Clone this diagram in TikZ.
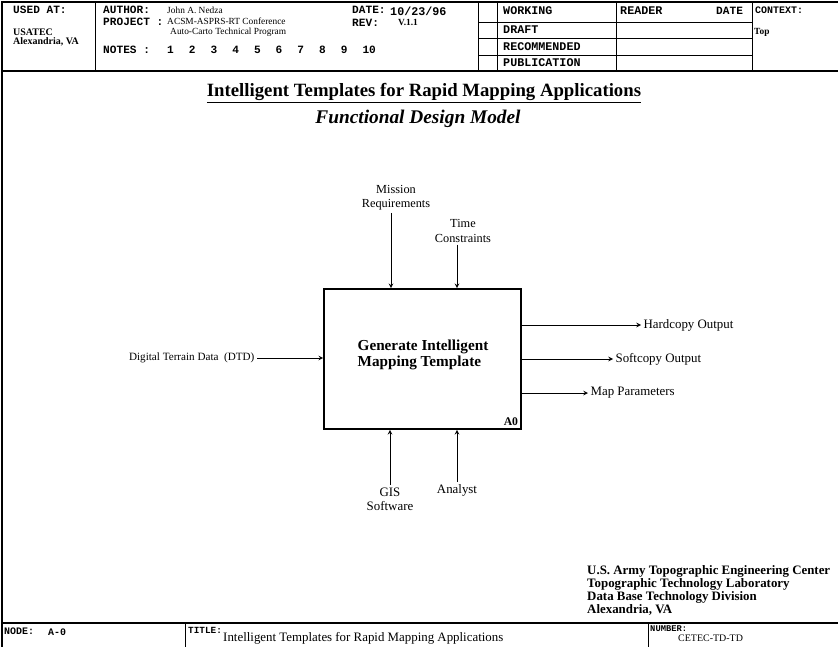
\documentclass[tikz,border=0pt]{standalone}
\usepackage{fontspec}
\setmainfont{Liberation Serif}
\setmonofont{Liberation Mono}
\usepackage{tikz}

\begin{document}
\begin{tikzpicture}[x=0.03cm, y=-0.03cm,
    frame/.style={line width=1.1pt},
    rule/.style={line width=0.6pt},
    formlabel/.style={font=\fontsize{9.5}{10}\selectfont\ttfamily\bfseries, inner sep=0pt, anchor=west},
    formtext/.style={font=\fontsize{8}{8}\selectfont, inner sep=0pt, anchor=west},
    formbold/.style={font=\fontsize{8.5}{9}\selectfont\bfseries, inner sep=0pt, anchor=west},
    flow/.style={->, >=stealth, line width=0.8pt},
    flowlabel/.style={font=\fontsize{11}{12}\selectfont, align=center, inner sep=2pt}]
    \useasboundingbox (0,0) rectangle (838,647);
    % form frame
    \draw[frame] (2,647) -- (2,2) -- (838,2);
    \draw[frame] (2,71) -- (838,71);
    \draw[frame] (2,623) -- (838,623);
    \foreach \xx in {95,478,497,616,752} \draw[rule] (\xx,2) -- (\xx,71);
    \foreach \yy in {22,38,55} \draw[rule] (478,\yy) -- (752,\yy);
    \draw[rule] (185,623) -- (185,647);
    \draw[rule] (648,623) -- (648,647);
    % header
    \node[formlabel] (usedat) at (13,10) {USED AT:};
    \node[formbold] (usatec) at (13,32) {USATEC};
    \node[formbold] (usedplace) at (13,42) {Alexandria, VA};
    \node[formlabel] (author) at (103,10) {AUTHOR:};
    \node[formtext] (authorname) at (167,10) {John A. Nedza};
    \node[formlabel] (project) at (103,22) {PROJECT :};
    \node[formtext] (projectname) at (167,21) {ACSM-ASPRS-RT Conference};
    \node[formtext] (projectname2) at (170,32.5) {Auto-Carto Technical Program};
    \node[formlabel] (notes) at (103,50) {NOTES :};
    \foreach \n in {1,...,10}
        \node[formlabel] (note\n) at ({145.3+21.7*\n},50) {\n};
    \node[formlabel] (date) at (352,10) {DATE:};
    \node[formlabel, font=\fontsize{10}{10}\selectfont\ttfamily\bfseries] (dateval) at (390,11) {10/23/96};
    \node[formlabel] (rev) at (352,23) {REV:};
    \node[formbold, font=\fontsize{8}{9}\selectfont\bfseries] (revval) at (398,22) {V.1.1};
    \node[formlabel, font=\fontsize{10}{10}\selectfont\ttfamily\bfseries] (working) at (503,11) {WORKING};
    \node[formlabel, font=\fontsize{10}{10}\selectfont\ttfamily\bfseries] (draft) at (503,30) {DRAFT};
    \node[formlabel, font=\fontsize{10}{10}\selectfont\ttfamily\bfseries] (recommended) at (503,46.5) {RECOMMENDED};
    \node[formlabel, font=\fontsize{10}{10}\selectfont\ttfamily\bfseries] (publication) at (503,63) {PUBLICATION};
    \node[formlabel, font=\fontsize{10}{10}\selectfont\ttfamily\bfseries] (reader) at (620,11) {READER};
    \node[formlabel] (readerdate) at (716,11) {DATE};
    \node[formlabel, font=\fontsize{8.5}{9}\selectfont\ttfamily\bfseries] (context) at (755,10) {CONTEXT:};
    \node[formbold, font=\fontsize{8}{9}\selectfont\bfseries] (contexttop) at (754,32) {Top};
    % titles
    \node[font=\fontsize{16}{17}\selectfont\bfseries] (title) at (424,93) {\underline{Intelligent Templates for Rapid Mapping Applications}};
    \node[font=\fontsize{16.5}{17}\selectfont\bfseries\itshape] (subtitle) at (418,119) {Functional Design Model};
    % activity box
    \node[draw, line width=1.4pt, minimum width=5.91cm, minimum height=4.2cm] (gen) at (422.5,359) {};
    \node[font=\fontsize{13}{13}\selectfont\bfseries, align=left] (gentext) at (423,355) {Generate Intelligent\\Mapping Template};
    \node[font=\fontsize{10}{10}\selectfont\bfseries, anchor=south east, inner sep=3pt] (boxid) at (gen.south east) {A0};
    % controls
    \node[flowlabel, font=\fontsize{10.5}{12}\selectfont] (mission) at (396,198) {Mission\\Requirements};
    \node[flowlabel, font=\fontsize{10.5}{12}\selectfont] (time) at (463,231) {Time\\Constraints};
    \draw[flow] (mission.south -| 391,0) -- (391,0 |- gen.north);
    \draw[flow] (time.south -| 457,0) -- (457,0 |- gen.north);
    % input
    \node[flowlabel, anchor=east, font=\fontsize{9.5}{11}\selectfont] (dtd) at (257,358) {Digital Terrain Data\ \ (DTD)};
    \draw[flow] (dtd.east) -- (dtd.east -| gen.west);
    % outputs
    \node[flowlabel, anchor=west] (hard) at (641,325) {Hardcopy Output};
    \node[flowlabel, anchor=west] (soft) at (613,359) {Softcopy Output};
    \node[flowlabel, anchor=west] (params) at (588,393) {Map Parameters};
    \draw[flow] (hard.west -| gen.east) -- (hard.west);
    \draw[flow] (soft.west -| gen.east) -- (soft.west);
    \draw[flow] (params.west -| gen.east) -- (params.west);
    % mechanisms
    \node[flowlabel] (gis) at (390,499) {GIS\\Software};
    \node[flowlabel] (analyst) at (457,490) {Analyst};
    \draw[flow] (gis.north) -- (gis.north |- gen.south);
    \draw[flow] (analyst.north) -- (analyst.north |- gen.south);
    % organisation
    \node[font=\fontsize{11}{9.9}\selectfont\bfseries, align=left, anchor=north west, inner sep=0pt] (org) at (587,565)
        {U.S. Army Topographic Engineering Center\\Topographic Technology Laboratory\\Data Base Technology Division\\Alexandria, VA};
    % footer
    \node[formlabel, font=\fontsize{8.5}{9}\selectfont\ttfamily\bfseries] (node) at (4,631) {NODE:};
    \node[formlabel, font=\fontsize{8.5}{9}\selectfont\ttfamily\bfseries] (nodeval) at (48,632) {A-0};
    \node[formlabel, font=\fontsize{8}{9}\selectfont\ttfamily\bfseries] (titlelabel) at (188,630) {TITLE:};
    \node[formtext, font=\fontsize{11}{11}\selectfont] (titleval) at (223,638) {Intelligent Templates for Rapid Mapping Applications};
    \node[formlabel, font=\fontsize{7.5}{8}\selectfont\ttfamily\bfseries] (number) at (650,629) {NUMBER:};
    \node[formtext, font=\fontsize{8.5}{9}\selectfont] (numberval) at (678,638) {CETEC-TD-TD};
\end{tikzpicture}
\end{document}
